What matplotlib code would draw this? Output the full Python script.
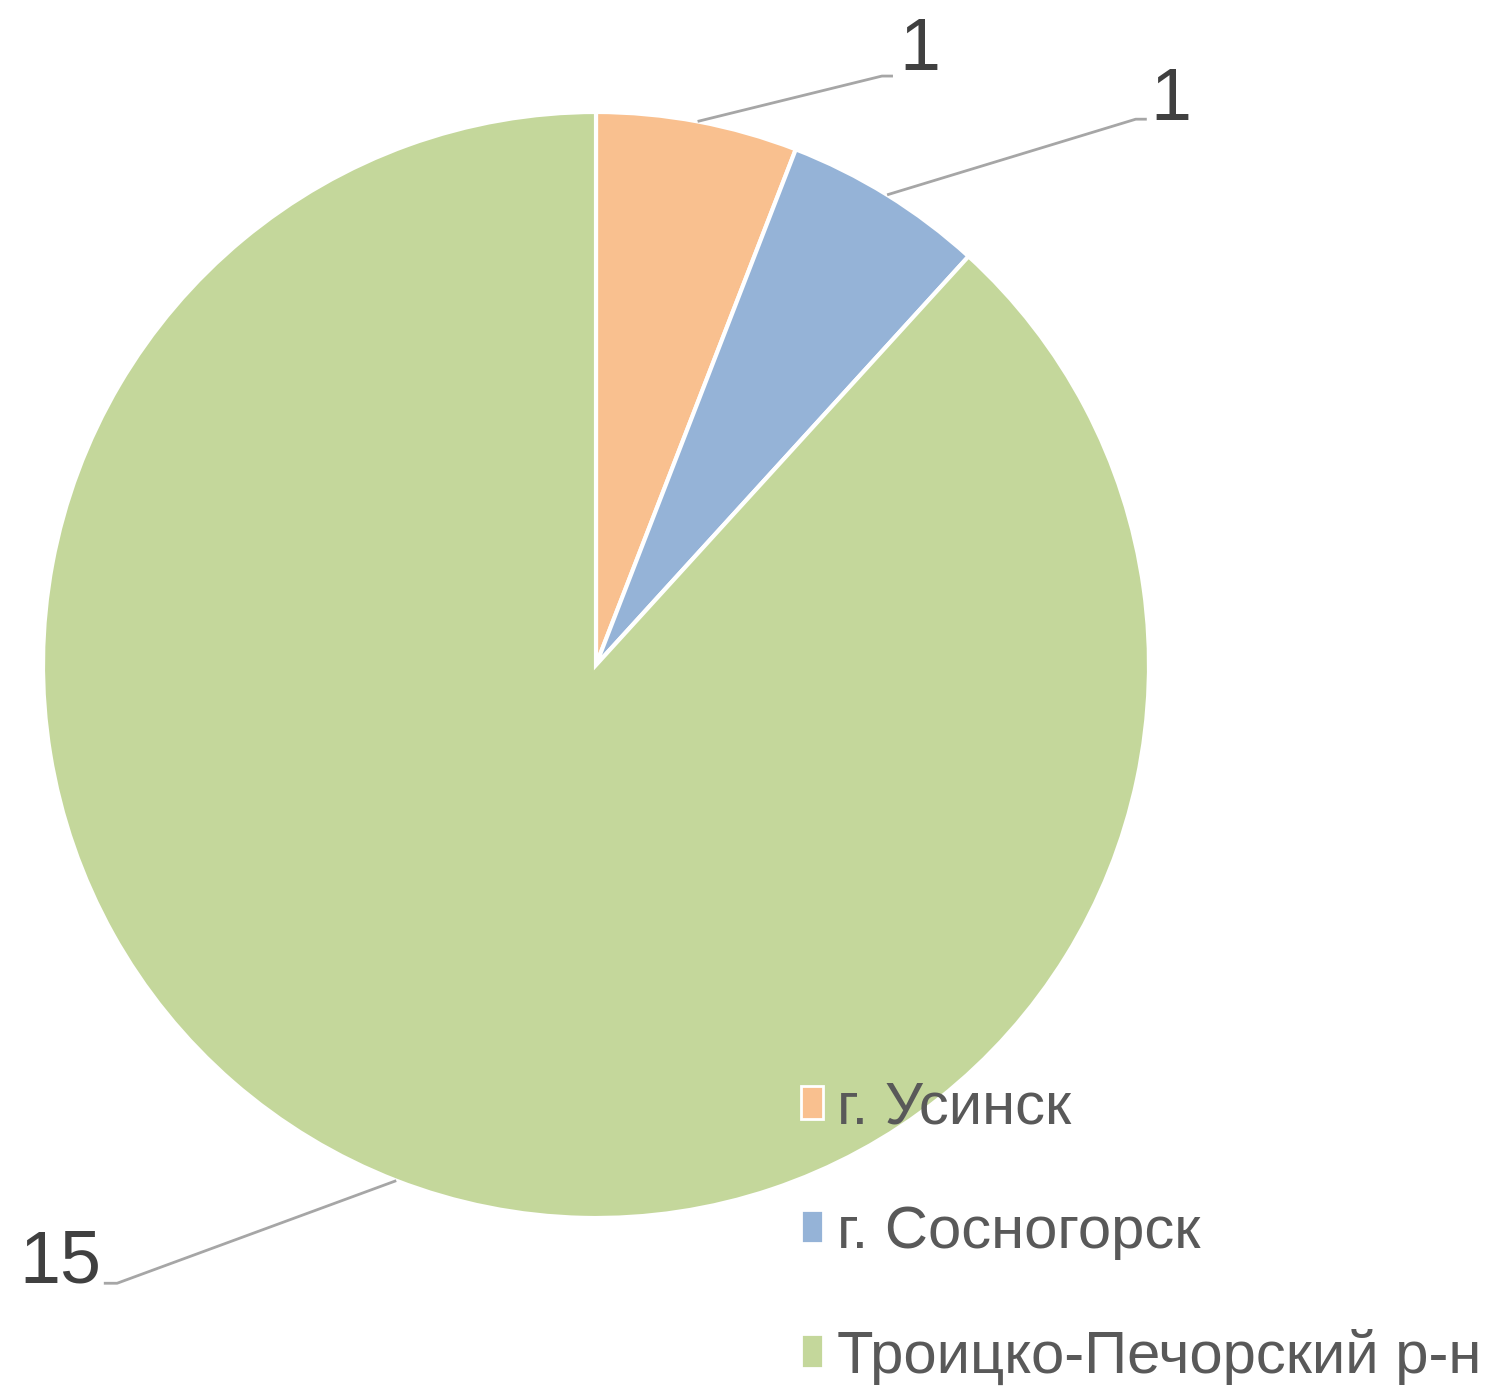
import numpy as np
import matplotlib
matplotlib.use("Agg")
import matplotlib.pyplot as plt
from matplotlib.patches import Patch

# данные
categories = ["г. Усинск", "г. Сосногорск", "Троицко-Печорский р-н"]
values = [1, 1, 15]
colors = ["#F9C08F", "#95B3D7", "#C4D79B"]

plt.rcParams["font.family"] = ["Liberation Sans", "DejaVu Sans"]

fig = plt.figure(figsize=(15, 13.89), dpi=100)
W, H = 1500, 1389
cx, cy, R = 596, 665, 553
ax = fig.add_axes([(cx - R) / W, (H - cy - R) / H, 2 * R / W, 2 * R / H])

wedges, _ = ax.pie(values, colors=colors, startangle=90, counterclock=False,
                   radius=1, wedgeprops=dict(edgecolor="white", linewidth=3))
ax.set_xlim(-1, 1)
ax.set_ylim(-1, 1)
ax.axis("off")

# выноски: излом и конец горизонтального участка, положение подписи
elbows = [(0.517, 1.065), (0.976, 0.987), (-0.866, -1.118)]
ends = [(0.537, 1.065), (0.996, 0.987), (-0.890, -1.118)]
label_pos = [(0.548, 1.076, "left"), (1.003, 0.985, "left"), (-0.895, -1.116, "right")]

for w, v, el, en, lp in zip(wedges, values, elbows, ends, label_pos):
    ang = np.deg2rad((w.theta1 + w.theta2) / 2)
    x0, y0 = np.cos(ang), np.sin(ang)
    ax.plot([x0, el[0], en[0]], [y0, el[1], en[1]], color="#A6A6A6", lw=2,
            clip_on=False, solid_capstyle="butt")
    ax.text(lp[0], lp[1], str(v), ha=lp[2], va="baseline", fontsize=53,
            color="#404040", clip_on=False)

handles = [Patch(facecolor=c, edgecolor="white", linewidth=2) for c in colors]
leg = fig.legend(handles, categories, loc="upper left",
                 bbox_to_anchor=(801 / W, 1 - 1081 / H), frameon=False,
                 prop={"size": 43}, labelcolor="#595959",
                 handlelength=0.36, handleheight=0.48, handletextpad=0.25,
                 labelspacing=1.15, borderpad=0, borderaxespad=0)

fig.savefig("out.png", dpi=100)
